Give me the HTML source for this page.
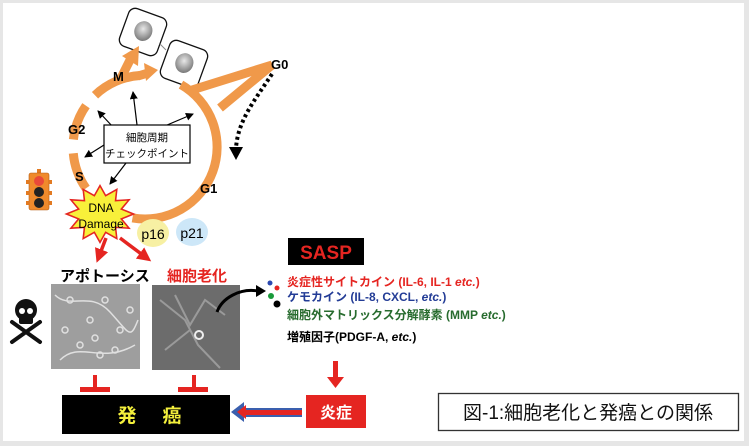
<!DOCTYPE html>
<html><head><meta charset="utf-8"><style>
html,body{margin:0;padding:0;background:#fff}
svg{display:block}
text{font-family:"Liberation Sans","Noto Sans CJK JP",sans-serif}
</style></head><body>
<svg width="749" height="446" viewBox="0 0 749 446" xmlns="http://www.w3.org/2000/svg">
<defs>
<radialGradient id="nuc" cx="45%" cy="40%" r="60%"><stop offset="0" stop-color="#e8e8e8"/><stop offset="1" stop-color="#7a7a7a"/></radialGradient>
<marker id="ah" markerWidth="8" markerHeight="8" refX="7" refY="4" orient="auto" markerUnits="userSpaceOnUse"><path d="M0,0 L8,4 L0,8 z" fill="#000"/></marker>
<marker id="rh" markerWidth="14" markerHeight="14" refX="10" refY="7" orient="auto" markerUnits="userSpaceOnUse"><path d="M0,0 L14,7 L0,14 z" fill="#e52521"/></marker>
</defs>
<rect x="0" y="0" width="749" height="446" fill="#e6e6e6"/>
<rect x="3" y="3" width="741" height="438" fill="#fff"/>

<!-- cells -->
<g transform="rotate(20 143 32)"><rect x="123" y="12" width="40" height="40" rx="7" fill="#fff" stroke="#111" stroke-width="1.3"/><ellipse cx="143" cy="31" rx="9" ry="10" fill="url(#nuc)"/></g>
<g transform="rotate(20 184 64)"><rect x="164" y="44" width="40" height="40" rx="7" fill="#fff" stroke="#111" stroke-width="1.3"/><ellipse cx="184" cy="63" rx="9" ry="10" fill="url(#nuc)"/></g>
<line x1="160" y1="44" x2="166" y2="50" stroke="#888" stroke-width="1"/>

<!-- orange cycle -->
<g fill="none" stroke="#f0994a" stroke-width="9">
<path d="M132.5,217.9 A72,72 0 0 0 181,84.6"/>
<path d="M86,188.3 A72,72 0 0 1 73.3,153.3"/>
<path d="M73.4,139.5 A72,72 0 0 1 86,105.7"/>
<path d="M95,95.2 A72,72 0 0 1 140,75.5"/>
<path d="M120,80 L130,60"/>
<path d="M138,76 L148,73"/>
<path d="M192,90 L272,65 L220,108"/>
</g>
<polygon points="122,56 139,46 138,66" fill="#f0994a"/>
<polygon points="144,63 158,70 146,81" fill="#f0994a"/>
<!-- dotted -->
<path d="M272,74 C255,100 238,120 236,148" fill="none" stroke="#000" stroke-width="4" stroke-dasharray="3,3"/>
<polygon points="229,147 243,147 236,160" fill="#000"/>

<text x="113" y="81" font-size="13" font-weight="bold">M</text>
<text x="68" y="134" font-size="13" font-weight="bold">G2</text>
<text x="75" y="181" font-size="13" font-weight="bold">S</text>
<text x="200" y="193" font-size="13" font-weight="bold">G1</text>
<text x="271" y="69" font-size="13" font-weight="bold">G0</text>

<!-- checkpoint arrows -->
<g stroke="#000" stroke-width="1.2" marker-end="url(#ah)">
<line x1="137" y1="125" x2="133" y2="92"/>
<line x1="113" y1="127" x2="98" y2="111"/>
<line x1="160" y1="128" x2="193" y2="114"/>
<line x1="104" y1="145" x2="85" y2="157"/>
<line x1="126" y1="163" x2="110" y2="184"/>
</g>
<rect x="104" y="125" width="86" height="38" fill="#fff" stroke="#000" stroke-width="1.2"/>
<text x="147" y="141" font-size="10.5" text-anchor="middle">細胞周期</text>
<text x="147" y="157" font-size="10.5" text-anchor="middle">チェックポイント</text>

<!-- traffic light -->
<rect x="37" y="169" width="4" height="5" fill="#e27a22"/>
<rect x="29" y="173" width="20" height="37" rx="2" fill="#ef8a2c" stroke="#b35d14" stroke-width="0.6"/>
<rect x="26" y="180" width="3" height="4" fill="#e27a22"/><rect x="49" y="180" width="3" height="4" fill="#e27a22"/>
<rect x="26" y="191" width="3" height="4" fill="#e27a22"/><rect x="49" y="191" width="3" height="4" fill="#e27a22"/>
<rect x="26" y="201" width="3" height="4" fill="#e27a22"/><rect x="49" y="201" width="3" height="4" fill="#e27a22"/>
<circle cx="39" cy="181" r="5" fill="#e84a3a"/>
<circle cx="39" cy="192" r="5" fill="#222"/>
<circle cx="39" cy="203" r="5" fill="#222"/>

<!-- DNA damage star -->
<g transform="translate(100 214) scale(1.05) translate(-100 -214)">
<polygon points="132,214 120.3,218.7 127.7,227.5 114.8,226.7 116,237.4 105.4,231.4 100,241 94.6,231.4 84,237.4 85.2,226.7 72.3,227.5 79.7,218.7 68,214 79.7,209.3 72.3,200.5 85.2,201.3 84,190.6 94.6,196.6 100,187 105.4,196.6 116,190.6 114.8,201.3 127.7,200.5 120.3,209.3" fill="#f8f03a" stroke="#e52521" stroke-width="1.5"/>
</g>
<text x="101" y="212" font-size="12" text-anchor="middle">DNA</text>
<text x="101" y="228" font-size="12" text-anchor="middle">Damage</text>

<ellipse cx="153" cy="233" rx="16" ry="14" fill="#f7f0a3"/>
<text x="153" y="239" font-size="14" text-anchor="middle">p16</text>
<ellipse cx="192" cy="232" rx="16" ry="14" fill="#cde7f8"/>
<text x="192" y="238" font-size="14" text-anchor="middle">p21</text>

<!-- red arrows -->
<g stroke="#e52521" stroke-width="3.5" marker-end="url(#rh)">
<line x1="106" y1="238" x2="98" y2="259"/>
<line x1="120" y1="238" x2="148" y2="259"/>
</g>

<text x="60" y="281" font-size="15" font-weight="bold">アポトーシス</text>
<text x="167" y="281" font-size="15" font-weight="bold" fill="#e52521">細胞老化</text>

<!-- photos -->
<rect x="51" y="284" width="89" height="85" fill="#9e9e9e"/>
<g fill="none" stroke="#e0e0e0" stroke-width="1.5">
<circle cx="70" cy="300" r="3"/><circle cx="90" cy="320" r="3"/><circle cx="105" cy="300" r="3"/><circle cx="120" cy="330" r="3"/><circle cx="80" cy="345" r="3"/><circle cx="100" cy="355" r="3"/><circle cx="130" cy="310" r="3"/><circle cx="65" cy="330" r="3"/><circle cx="115" cy="350" r="3"/><circle cx="95" cy="338" r="3"/>
<path d="M55,295 C70,310 90,290 110,312 S130,340 138,320"/><path d="M60,360 C80,340 100,365 135,345"/>
</g>
<rect x="152" y="285" width="88" height="85" fill="#6c6c6c"/>
<g fill="none" stroke="#9a9a9a" stroke-width="2">
<path d="M160,300 L185,320 L198,345 L220,368"/><path d="M175,295 L190,325 L205,300 L225,315"/><path d="M165,350 L190,330"/>
</g>
<circle cx="199" cy="335" r="4" fill="none" stroke="#eee" stroke-width="2"/>
<path d="M217,312 C222,298 240,288 258,291" fill="none" stroke="#000" stroke-width="3"/>
<polygon points="256,285 266,291 256,297" fill="#000"/>

<!-- skull -->
<g fill="#111">
<circle cx="26" cy="310" r="11"/><rect x="19" y="314" width="14" height="10" rx="2"/>
<g stroke="#111" stroke-width="4" stroke-linecap="round"><line x1="12" y1="322" x2="40" y2="342"/><line x1="40" y1="322" x2="12" y2="342"/></g>
</g>
<circle cx="22" cy="311" r="3" fill="#fff"/><circle cx="30" cy="311" r="3" fill="#fff"/>

<!-- inhibition -->
<g fill="#e52521">
<rect x="93" y="375" width="4" height="13"/><rect x="80" y="387" width="30" height="5"/>
<rect x="192" y="375" width="4" height="13"/><rect x="178" y="387" width="30" height="5"/>
</g>

<rect x="62" y="395" width="168" height="39" fill="#000"/>
<text x="127" y="422" font-size="19" font-weight="bold" fill="#f4f03c" text-anchor="middle">発</text>
<text x="172" y="422" font-size="19" font-weight="bold" fill="#f4f03c" text-anchor="middle">癌</text>

<!-- double arrow -->
<polygon points="231,412 244,402 244,408 302,408 302,417 244,417 244,422" fill="#3a5fae"/>
<polygon points="237,412 246,405 246,410 302,410 302,415 246,415 246,419" fill="#e52521"/>

<rect x="306" y="395" width="60" height="33" fill="#e52521"/>
<text x="336" y="418" font-size="16" font-weight="bold" fill="#fff" text-anchor="middle">炎症</text>
<rect x="333" y="361" width="5" height="17" fill="#e52521"/>
<polygon points="327,377 344,377 335.5,388" fill="#e52521"/>

<rect x="288" y="238" width="76" height="27" fill="#000"/>
<text x="326" y="259" font-size="19" font-weight="bold" fill="#e52521" text-anchor="middle">SASP</text>

<circle cx="270" cy="283" r="2.5" fill="#2b49b0"/>
<circle cx="277" cy="288" r="2.5" fill="#e52521"/>
<circle cx="271" cy="296" r="3" fill="#1a9a3a"/>
<circle cx="277" cy="304" r="3.5" fill="#000"/>
<g font-size="12" font-weight="bold">
<text x="287" y="286" fill="#e52521">炎症性サイトカイン (IL-6, IL-1 <tspan font-style="italic">etc.</tspan>)</text>
<text x="287" y="301" fill="#233c96">ケモカイン (IL-8, CXCL, <tspan font-style="italic">etc.</tspan>)</text>
<text x="287" y="319" fill="#276b2e">細胞外マトリックス分解酵素 (MMP <tspan font-style="italic">etc.</tspan>)</text>
<text x="287" y="341" fill="#000">増殖因子(PDGF-A, <tspan font-style="italic">etc.</tspan>)</text>
</g>

<rect x="438.5" y="393.5" width="300" height="37" fill="#fff" stroke="#333" stroke-width="1.3"/>
<text x="588" y="419" font-size="19" text-anchor="middle" fill="#111">図-1:細胞老化と発癌との関係</text>
</svg>
</body></html>
